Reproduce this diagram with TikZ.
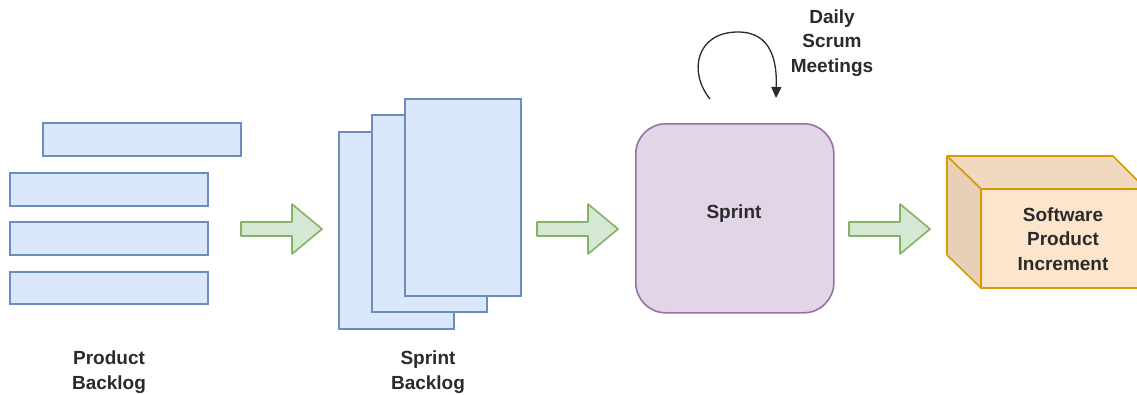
\documentclass[tikz,border=0pt]{standalone}
\usepackage{fontspec}
\setmainfont{Liberation Sans}
\usetikzlibrary{arrows.meta}
\definecolor{blueFill}{HTML}{DAE8FC}
\definecolor{blueLine}{HTML}{6C8EBF}
\definecolor{greenFill}{HTML}{D5E8D4}
\definecolor{greenLine}{HTML}{82B366}
\definecolor{purpleFill}{HTML}{E1D5E7}
\definecolor{purpleLine}{HTML}{9673A6}
\definecolor{cubeFront}{HTML}{FDE5CC}
\definecolor{cubeTop}{HTML}{F1D9C0}
\definecolor{cubeSide}{HTML}{E7CFB8}
\definecolor{cubeLine}{HTML}{D79B00}
\definecolor{ink}{HTML}{2B2B2B}
\tikzset{
  card/.style={draw=blueLine, fill=blueFill, line width=1.6pt, anchor=north west,
    inner sep=0pt, outer sep=0pt},
  flow/.style={draw=greenLine, fill=greenFill, line width=1.6pt, line join=round},
  caption/.style={text=ink, align=center, font=\fontsize{19}{24.5}\selectfont\bfseries, inner sep=0pt},
}
\begin{document}
\begin{tikzpicture}[x=1pt, y=-1pt]
\clip (0,0) rectangle (1137,394);
\fill[white] (0,0) rectangle (1137,394);

% product backlog items
\node[card, minimum width=198pt, minimum height=33pt] (pb1) at (43,123) {};
\node[card, minimum width=198pt, minimum height=33pt] (pb2) at (10,173) {};
\node[card, minimum width=198pt, minimum height=33pt] (pb3) at (10,222) {};
\node[card, minimum width=198pt, minimum height=32pt] (pb4) at (10,272) {};
\node[caption] (pblabel) at (109,372) {Product\\Backlog};

% sprint backlog sheets
\node[card, minimum width=115pt, minimum height=197pt] (sb1) at (339,132) {};
\node[card, minimum width=115pt, minimum height=197pt] (sb2) at (372,115) {};
\node[card, minimum width=116pt, minimum height=197pt] (sb3) at (405,99) {};
\node[caption] (sblabel) at (428,372) {Sprint\\Backlog};

% sprint
\node[draw=purpleLine, fill=purpleFill, line width=1.6pt, rounded corners=30pt,
  minimum width=198pt, minimum height=189pt, inner sep=0pt, anchor=north west] (sprint) at (635,123) {};
\node[caption] (sprinttext) at (734,214) {Sprint};

% daily loop above the sprint
\coordinate (loopstart) at (710,99);
\coordinate (looptop) at (738,32);
\coordinate (loopend) at (776,98);
\draw[line width=1.3pt, ink, -{Triangle[length=11pt, width=10pt]}]
  (loopstart) .. controls (688,72) and (696,32) .. (looptop)
  .. controls (772,32) and (777,62) .. (loopend);
\node[caption] (dailylabel) at (832,43) {Daily\\Scrum\\Meetings};

% flow arrows
\foreach \x/\n in {241/a1, 537/a2, 849/a3} {
  \draw[flow] (\x,222) -- (\x+51,222) -- (\x+51,204) -- (\x+81,229)
    -- (\x+51,254) -- (\x+51,236) -- (\x,236) -- cycle;
}

% product increment cube
\coordinate (cA) at (947,156);
\coordinate (cB) at (1113,156);
\coordinate (cC) at (1146,189);
\coordinate (cD) at (981,189);
\coordinate (cE) at (981,288);
\coordinate (cF) at (947,255);
\coordinate (cG) at (1146,288);
\draw[fill=cubeTop, draw=cubeLine, line width=1.6pt, line join=round]
  (cA) -- (cB) -- (cC) -- (cD) -- cycle;
\draw[fill=cubeSide, draw=cubeLine, line width=1.6pt, line join=round]
  (cA) -- (cD) -- (cE) -- (cF) -- cycle;
\draw[fill=cubeFront, draw=cubeLine, line width=1.6pt, line join=round]
  (cD) -- (cC) -- (cG) -- (cE) -- cycle;
\node[caption] (cubetext) at (1063,239) {Software\\Product\\Increment};
\end{tikzpicture}
\end{document}
